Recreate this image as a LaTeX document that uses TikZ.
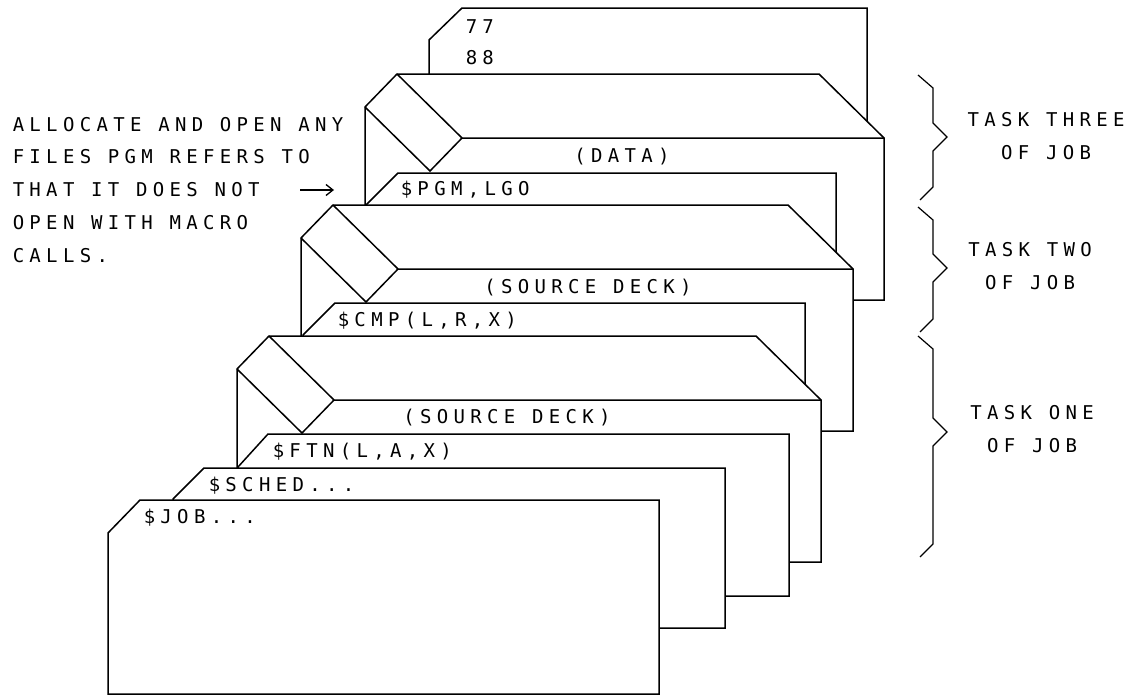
\documentclass[tikz,border=0pt]{standalone}
\usepackage{fontspec}
\newfontfamily\plotter[LetterSpace=28]{DejaVu Sans Mono}
\usetikzlibrary{arrows.meta}

\begin{document}
\begin{tikzpicture}[x=1pt,y=-1pt,line width=1.5pt,node distance=33pt,
    card/.style={draw,fill=white},
    txt/.style={inner sep=0pt,anchor=west,text height=13pt,text depth=0pt,
      font=\plotter\fontsize{19}{22}\selectfont},
    lbl/.style={txt,anchor=center},
    brace/.style={line width=1.2pt}]
  \useasboundingbox (0,0) rectangle (1141,696);

  % card at the back
  \draw[card] (429,250) -- (429,40) -- (462,8) -- (867,8) -- (867,250) -- cycle;
  \node[txt] (v77) at (465,27) {77};
  \node[txt] (v88) at (465,58) {88};

  % task three
  \draw[card] (365,107) -- (397,74) -- (819,74) -- (884,138) -- (884,300) -- (365,300) -- cycle;
  \draw (397,74) -- (462,138) -- (884,138) (365,107) -- (430,171) -- (462,138);
  \node[lbl] (data) at (622,156) {(DATA)};
  \draw[card] (366,400) -- (366,205) -- (398,173) -- (836,173) -- (836,400) -- cycle;
  \node[txt] (pgm) at (400,189) {\$PGM,LGO};

  % task two
  \draw[card] (301,238) -- (333,205) -- (788,205) -- (853,269) -- (853,431) -- (301,431) -- cycle;
  \draw (333,205) -- (398,269) -- (853,269) (301,238) -- (366,302) -- (398,269);
  \node[lbl] (src2) at (588,287) {(SOURCE DECK)};
  \draw[card] (303,520) -- (303,335) -- (335,303) -- (805,303) -- (805,520) -- cycle;
  \node[txt] (cmp) at (337,320) {\$CMP(L,R,X)};

  % task one
  \draw[card] (237,562) -- (237,369) -- (269,336) -- (756,336) -- (821,400) -- (821,562) -- cycle;
  \draw (269,336) -- (334,400) -- (821,400) (237,369) -- (302,433) -- (334,400);
  \node[lbl] (src1) at (507,417) {(SOURCE DECK)};
  \draw[card] (238,596) -- (238,467) -- (268,434) -- (789,434) -- (789,596) -- cycle;
  \node[txt] (ftn) at (272,451) {\$FTN(L,A,X)};

  % job control cards
  \draw[card] (173,628) -- (173,499) -- (204,468) -- (725,468) -- (725,628) -- cycle;
  \node[txt] (sched) at (208,485) {\$SCHED...};
  \draw[card] (108,694) -- (108,533) -- (140,500) -- (659,500) -- (659,694) -- cycle;
  \node[txt] (job) at (143,517) {\$JOB...};

  % note on the left
  \node[txt] (n1) at (12,125) {ALLOCATE AND OPEN ANY};
  \node[txt] (n2) at (12,157) {FILES PGM REFERS TO};
  \node[txt] (n3) at (12,190) {THAT IT DOES NOT};
  \node[txt] (n4) at (12,223) {OPEN WITH MACRO};
  \node[txt] (n5) at (12,256) {CALLS.};
  \coordinate (arrtail) at (300,190);
  \coordinate (pgmtip) at (334,190);
  \draw[-{Straight Barb[length=7pt,width=11pt]},line width=1.3pt] (arrtail) -- (pgmtip);

  % braces
  \draw[brace] (918,75) -- (933,88) -- (933,123) -- (947,137) -- (933,151) -- (933,187) -- (920,200);
  \draw[brace] (918,207) -- (933,220) -- (933,254) -- (947,268) -- (933,282) -- (933,319) -- (920,332);
  \draw[brace] (918,336) -- (933,349) -- (933,418) -- (947,432) -- (933,446) -- (933,544) -- (920,557);
  \node[lbl] (t3) at (1046,120) {TASK THREE};
  \node[lbl] (t3b) [below of=t3] {OF JOB};
  \node[lbl] (t2) at (1030,250) {TASK TWO};
  \node[lbl] (t2b) [below of=t2] {OF JOB};
  \node[lbl] (t1) at (1032,413) {TASK ONE};
  \node[lbl] (t1b) [below of=t1] {OF JOB};
\end{tikzpicture}
\end{document}
